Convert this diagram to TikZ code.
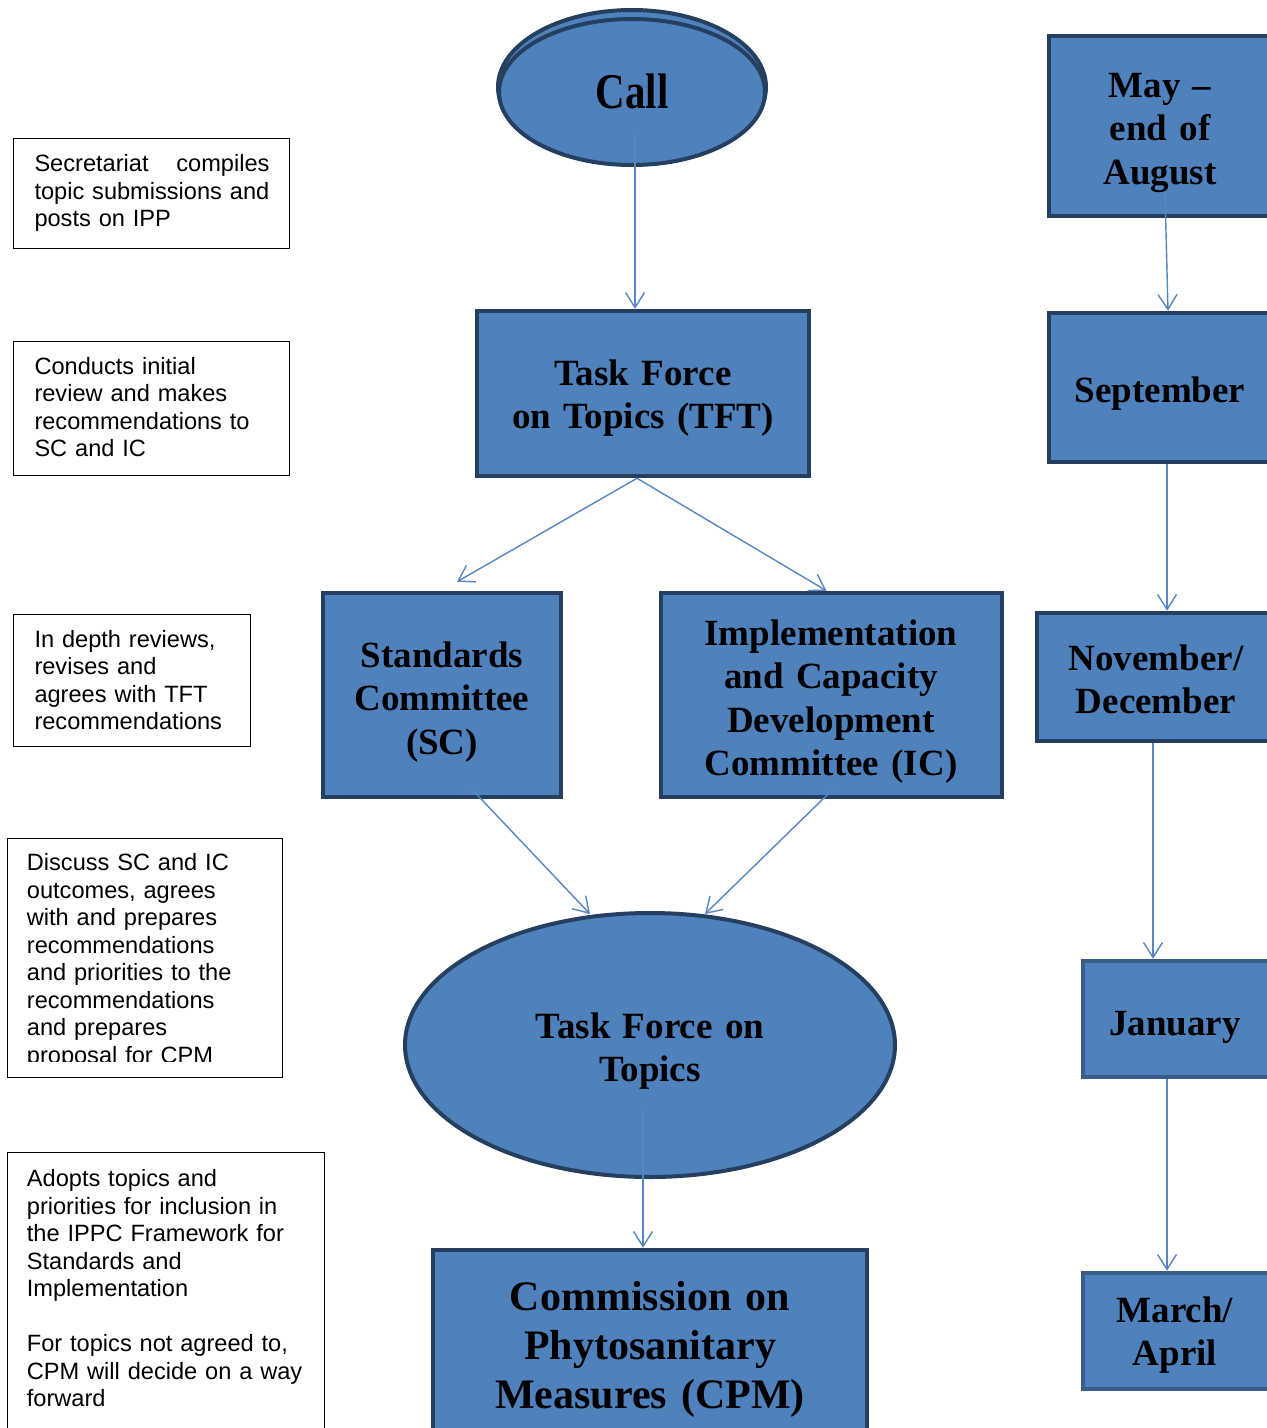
\documentclass[tikz,border=0pt]{standalone}
\usepackage{fontspec}
\usepackage{graphicx}
\setmainfont{Liberation Serif}
\newfontfamily\arialf{Liberation Sans}
\usetikzlibrary{arrows.meta,shapes.geometric,calc}
\definecolor{fillblue}{HTML}{4F81BD}
\definecolor{linkblue}{HTML}{5686C3}
\definecolor{edgenavy}{HTML}{243F60}
\definecolor{edgemid}{HTML}{385D8A}
\tikzset{
  blockbox/.style={draw=edgenavy, fill=fillblue, line width=4.5pt, rectangle, inner sep=0pt},
  ovalnode/.style={draw=edgenavy, fill=fillblue, line width=4pt, ellipse, inner sep=0pt},
  bigtext/.style={font=\bfseries\fontsize{37}{43.5}\selectfont, align=center, text width=340pt, inner sep=0pt, anchor=base},
  notebox/.style={draw=black, line width=1pt, rectangle, inner sep=0pt, anchor=north west},
  notetext/.style={font=\arialf\fontsize{23.6}{27.5}\selectfont, align=left, text width=310pt, inner sep=0pt, anchor=base west},
  flow/.style={draw=linkblue, line width=1.4pt, -{Straight Barb[length=15pt,width=19pt,line width=1.4pt]}}
}
\begin{document}
\begin{tikzpicture}[x=1pt,y=-1pt]
\useasboundingbox (0,0) rectangle (1267,1428);
\clip (0,0) rectangle (1267,1428);
\fill[white] (0,0) rectangle (1267,1428);

% central column
\node[ovalnode, minimum width=268pt, minimum height=154pt] (callback) at (632,87) {};
\node[ovalnode, minimum width=266pt, minimum height=146pt] (call) at (632,92) {};
\node[bigtext, font=\bfseries\fontsize{50}{55}\selectfont] (calltext) at (632,108) {\scalebox{0.82}[1]{Call}};

\node[blockbox, minimum width=332pt, minimum height=165pt] (tft) at (643,393.5) {};
\node[bigtext] (tfttext) at (643,385) {Task Force\\on Topics (TFT)};

\node[blockbox, minimum width=238pt, minimum height=204pt] (sc) at (442,695) {};
\node[bigtext] (sctext) at (442,667) {Standards\\Committee\\(SC)};

\node[blockbox, minimum width=341pt, minimum height=204pt] (ic) at (831.5,695) {};
\node[bigtext] (ictext) at (831,645) {Implementation\\and Capacity\\Development\\Committee (IC)};

\node[ovalnode, minimum width=490pt, minimum height=264pt] (tft2) at (650,1045) {};
\node[bigtext] (tft2text) at (650,1038) {Task Force on\\Topics};

\node[blockbox, minimum width=434pt, minimum height=220pt] (cpm) at (650,1360) {};
\node[bigtext, font=\bfseries\fontsize{42}{49}\selectfont, text width=420pt] (cpmtext) at (650,1310) {Commission on\\Phytosanitary\\Measures (CPM)};

% right column
\node[blockbox, minimum width=222pt, minimum height=180pt] (may) at (1160,126) {};
\node[bigtext] (maytext) at (1160,97) {May –\\end of\\August};
\node[blockbox, minimum width=222pt, minimum height=149pt] (sep) at (1160,387.5) {};
\node[bigtext] (septext) at (1160,402) {September};
\node[blockbox, minimum width=238pt, minimum height=128pt] (nov) at (1156,677) {};
\node[bigtext] (novtext) at (1156,670) {November/\\December};
\node[blockbox, draw=edgemid, minimum width=192pt, minimum height=116pt] (jan) at (1179,1019) {};
\node[bigtext] (jantext) at (1175,1035) {January};
\node[blockbox, draw=edgemid, minimum width=192pt, minimum height=116pt] (mar) at (1179,1331) {};
\node[bigtext] (martext) at (1175,1322) {March/\\April};

% connectors
\draw[flow] ($(call.center)+(3,43)$) -- ($(tft.north)+(-8,0)$);
\draw[flow] ($(tft.south)+(-6,0)$) -- ($(sc.north)+(15,-9)$);
\draw[flow] ($(tft.south)+(-6,0)$) -- ($(ic.north)+(-5,0)$);
\draw[flow] ($(sc.south)+(28,-12)$) -- ($(tft2.north)+(-60,3)$);
\draw[flow] ($(ic.south)+(3.5,-12)$) -- ($(tft2.north)+(55,3)$);
\draw[flow] ($(tft2.center)+(-7,65)$) -- ($(cpm.north)+(-7,0)$);
\draw[flow] ($(may.south)+(5,-26)$) -- ($(sep.north)+(8,0)$);
\draw[flow] ($(sep.south)+(7,0)$) -- ($(nov.north)+(11,0)$);
\draw[flow] ($(nov.south)+(-3,0)$) -- ($(jan.north)+(-26,0)$);
\draw[flow] ($(jan.south)+(-12,0)$) -- ($(mar.north)+(-12,0)$);

% left notes
\node[notebox, minimum width=276pt, minimum height=110pt] (n1) at (13,138) {};
\node[notetext, text width=240pt] (t1) at (34.3,171.7) {\leavevmode\hbox to 235pt{Secretariat\hfill compiles}\\topic submissions and\\posts on IPP};

\node[notebox, minimum width=276pt, minimum height=134pt] (n2) at (13,341) {};
\node[notetext] (t2) at (34.3,374.3) {Conducts initial\\review and makes\\recommendations to\\SC and IC};

\node[notebox, minimum width=237pt, minimum height=132pt] (n3) at (13,614) {};
\node[notetext] (t3) at (34.3,647) {In depth reviews,\\revises and\\agrees with TFT\\recommendations};

\node[notebox, minimum width=275.3pt, minimum height=238.4pt] (n4) at (6.7,838.3) {};
\begin{scope}
\clip (6.7,838.3) rectangle (282,1061);
\node[notetext] (t4) at (26.7,870.5) {Discuss SC and IC\\outcomes, agrees\\with and prepares\\recommendations\\and priorities to the\\recommendations\\and prepares\\proposal for CPM};
\end{scope}

\node[notebox, minimum width=317.6pt, minimum height=340pt] (n5) at (6.7,1152.3) {};
\node[notetext] (t5) at (26.7,1186.7) {Adopts topics and\\priorities for inclusion in\\the IPPC Framework for\\Standards and\\Implementation\\[27.5pt]For topics not agreed to,\\CPM will decide on a way\\forward};
\end{tikzpicture}
\end{document}
